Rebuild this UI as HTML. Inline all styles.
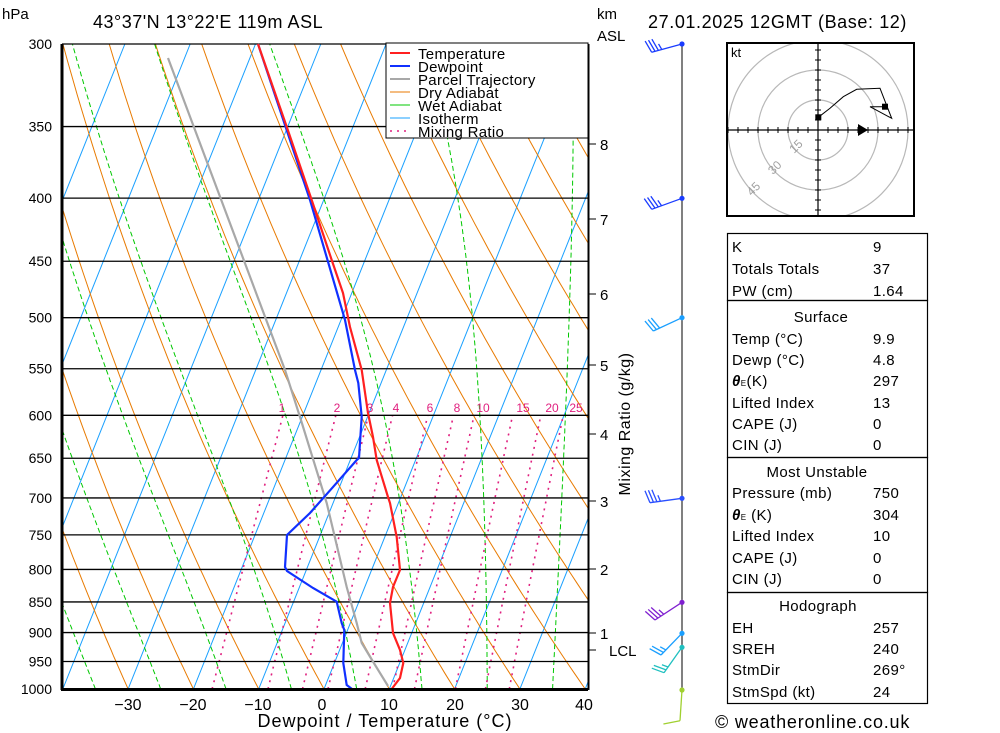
<!DOCTYPE html>
<html><head><meta charset="utf-8">
<style>
html,body{margin:0;padding:0;background:#fff;}
svg{display:block;font-family:"Liberation Sans",sans-serif;}
</style></head><body>
<svg id="s" width="1000" height="733" viewBox="0 0 1000 733" xmlns="http://www.w3.org/2000/svg">
<defs><clipPath id="pc"><rect x="62" y="44" width="526" height="645"/></clipPath>
<clipPath id="hc"><rect x="727" y="43" width="187" height="173"/></clipPath></defs>
<g id="bg" clip-path="url(#pc)"></g>
<g id="fg"></g>
<text x="2" y="19" font-size="15">hPa</text>
<text x="93" y="28" font-size="18" letter-spacing="0.5">43°37'N  13°22'E  119m  ASL</text>
<text x="597" y="19" font-size="15">km</text>
<text x="597" y="41" font-size="15">ASL</text>
<text x="648" y="28" font-size="18" letter-spacing="0.6">27.01.2025  12GMT  (Base: 12)</text>
<g font-size="14" text-anchor="end" id="plab"></g>
<g font-size="16" text-anchor="middle">
<text x="128" y="710">−30</text><text x="193" y="710">−20</text><text x="258" y="710">−10</text>
<text x="322" y="710">0</text><text x="389" y="710">10</text><text x="455" y="710">20</text>
<text x="520" y="710">30</text><text x="584" y="710">40</text>
</g>
<text x="385" y="727" font-size="18" text-anchor="middle" letter-spacing="1">Dewpoint / Temperature (°C)</text>
<g font-size="15">
<text x="600" y="150">8</text><text x="600" y="225">7</text><text x="600" y="300">6</text>
<text x="600" y="371">5</text><text x="600" y="440">4</text><text x="600" y="507">3</text>
<text x="600" y="575">2</text><text x="600" y="639">1</text><text x="609" y="656">LCL</text>
</g>
<text transform="translate(630,424) rotate(-90)" font-size="16" text-anchor="middle" letter-spacing="0.5">Mixing Ratio (g/kg)</text>
<g font-size="12" fill="#e0207f" text-anchor="middle">
<text x="282" y="412">1</text><text x="337" y="412">2</text><text x="370" y="412">3</text><text x="396" y="412">4</text>
<text x="430" y="412">6</text><text x="457" y="412">8</text><text x="483" y="412">10</text><text x="523" y="412">15</text>
<text x="552" y="412">20</text><text x="576" y="412">25</text>
</g>
<rect x="386" y="43" width="202" height="95" fill="#fff" stroke="#000" stroke-width="1"/>
<g font-size="15" letter-spacing="0.3">
<line x1="390" y1="53" x2="410" y2="53" stroke="#ff2020" stroke-width="2"/><text x="418" y="59">Temperature</text>
<line x1="390" y1="66" x2="410" y2="66" stroke="#1030ff" stroke-width="2"/><text x="418" y="72">Dewpoint</text>
<line x1="390" y1="79" x2="410" y2="79" stroke="#a8a8a8" stroke-width="2"/><text x="418" y="85">Parcel Trajectory</text>
<line x1="390" y1="92" x2="410" y2="92" stroke="#e87a00" stroke-width="1"/><text x="418" y="98">Dry Adiabat</text>
<line x1="390" y1="105" x2="410" y2="105" stroke="#00c800" stroke-width="1"/><text x="418" y="111">Wet Adiabat</text>
<line x1="390" y1="118" x2="410" y2="118" stroke="#1aa0ff" stroke-width="1"/><text x="418" y="124">Isotherm</text>
<line x1="390" y1="131" x2="410" y2="131" stroke="#e0207f" stroke-width="1.5" stroke-dasharray="2,5"/><text x="418" y="137">Mixing Ratio</text>
</g>
<g id="hodo"></g>
<rect x="727" y="43" width="187" height="173" fill="none" stroke="#000" stroke-width="2"/>
<text x="731" y="57" font-size="13">kt</text>
<g fill="none" stroke="#000" stroke-width="1.2">
<rect x="727.5" y="233.5" width="200" height="67"/>
<rect x="727.5" y="300.5" width="200" height="157"/>
<rect x="727.5" y="457.5" width="200" height="135"/>
<rect x="727.5" y="592.5" width="200" height="111"/>
</g>
<g font-size="15" letter-spacing="0.4">
<text x="732" y="252">K</text><text x="873" y="252">9</text>
<text x="732" y="274">Totals Totals</text><text x="873" y="274">37</text>
<text x="732" y="296">PW (cm)</text><text x="873" y="296">1.64</text>
<text x="821" y="322" text-anchor="middle">Surface</text>
<text x="732" y="344">Temp (°C)</text><text x="873" y="344">9.9</text>
<text x="732" y="365">Dewp (°C)</text><text x="873" y="365">4.8</text>
<text x="732" y="386"><tspan font-style="italic" font-weight="bold">θ</tspan><tspan font-size="8">E</tspan>(K)</text><text x="873" y="386">297</text>
<text x="732" y="408">Lifted Index</text><text x="873" y="408">13</text>
<text x="732" y="429">CAPE (J)</text><text x="873" y="429">0</text>
<text x="732" y="450">CIN (J)</text><text x="873" y="450">0</text>
<text x="817" y="477" text-anchor="middle">Most Unstable</text>
<text x="732" y="498">Pressure (mb)</text><text x="873" y="498">750</text>
<text x="732" y="520"><tspan font-style="italic" font-weight="bold">θ</tspan><tspan font-size="8">E</tspan> (K)</text><text x="873" y="520">304</text>
<text x="732" y="541">Lifted Index</text><text x="873" y="541">10</text>
<text x="732" y="563">CAPE (J)</text><text x="873" y="563">0</text>
<text x="732" y="584">CIN (J)</text><text x="873" y="584">0</text>
<text x="818" y="611" text-anchor="middle">Hodograph</text>
<text x="732" y="633">EH</text><text x="873" y="633">257</text>
<text x="732" y="654">SREH</text><text x="873" y="654">240</text>
<text x="732" y="675">StmDir</text><text x="873" y="675">269°</text>
<text x="732" y="697">StmSpd (kt)</text><text x="873" y="697">24</text>
</g>
<text x="715" y="728" font-size="18" letter-spacing="0.8">© weatheronline.co.uk</text>
</svg>
<script>
(function(){
var NS="http://www.w3.org/2000/svg";
function el(parent,tag,attrs){var e=document.createElementNS(NS,tag);for(var k in attrs)e.setAttribute(k,attrs[k]);parent.appendChild(e);return e;}
var L=Math.log(1000/300);
function Y(p){return 44+645*Math.log(p/300)/L;}
function X(T,p){return 324+6.53*T+0.40*(689-Y(p));}
var bg=document.getElementById('bg'),fg=document.getElementById('fg');
function poly(g,pts,st,w,dash){var s=pts.map(function(q){return q[0].toFixed(1)+","+q[1].toFixed(1)}).join(" ");var a={points:s,fill:"none",stroke:st,"stroke-width":w};if(dash)a["stroke-dasharray"]=dash;el(g,"polyline",a);}
for(var T=-130;T<=40;T+=10){poly(bg,[[X(T,1000),Y(1000)],[X(T,300),Y(300)]],"#1aa0ff",1);}
for(var th=-40;th<=160;th+=10){var pts=[];for(var p=1000;p>=300;p-=10){var t=(th+273.15)*Math.pow(p/1000,0.2857)-273.15;pts.push([X(t,p),Y(p)]);}poly(bg,pts,"#e87a00",1);}
function es(t){return 6.112*Math.exp(17.67*t/(t+243.5));}
for(var t0=-35;t0<=35;t0+=10){var t=t0,pts=[[X(t,1000),Y(1000)]];for(var p=1000;p>300;p-=2){var Tk=t+273.15;var e=es(t);var rs=0.622*e/(p-e);var Lv=2.5e6,Rd=287,cp=1005;var dTdp=(Rd*Tk+Lv*rs)/(cp+Lv*Lv*rs*0.622/(Rd*Tk*Tk))/p;t=t+dTdp*(-2);pts.push([X(t,p-2),Y(p-2)]);}poly(bg,pts,"#00c800",1,"5,3");}
[1,2,3,4,6,8,10,15,20,25].forEach(function(w){var pts=[];for(var p=1000;p>=600;p-=10){var e=w*p/(622+w);var l=Math.log(e/6.112);var td=243.5*l/(17.67-l);pts.push([X(td,p),Y(p)]);}poly(bg,pts,"#e0207f",1.6,"2,5");});
var plab=document.getElementById('plab');
[300,350,400,450,500,550,600,650,700,750,800,850,900,950,1000].forEach(function(p){var y=Y(p);el(fg,"line",{x1:62,y1:y,x2:588,y2:y,stroke:"#000","stroke-width":1.3});var t=el(plab,"text",{x:52,y:y+5});t.textContent=p;});
var temp=[[391.7,689],[400,678],[403.3,663],[400,650],[393,633],[390,603],[393,587],[400,570],[396.7,537],[390,503],[388,497],[376.7,460],[373,437],[368,413],[361.7,370],[350,327],[343,293],[331.7,260],[311.7,200],[286.7,126.7],[258,44]];
var dew=[[352,689],[346.7,685],[343.3,663],[344.3,630],[341.7,623],[336.7,601.7],[313,588],[287,571],[285,567],[287,535],[310,513],[333.3,486.7],[356.7,460],[359,458],[361.7,416.7],[358.3,383],[355,370],[345,320],[310,200],[285,125],[258,44]];
var par=[[388,686],[372,660],[361.7,643],[356.7,623],[346.7,587],[326.7,503],[300,417],[285,370],[168,58]];
poly(fg,par,"#a8a8a8",2.2);
poly(fg,dew,"#1030ff",2.2);
poly(fg,temp,"#ff2020",2.2);
el(fg,"line",{x1:62,y1:44,x2:62,y2:690,stroke:"#000","stroke-width":3});
el(fg,"line",{x1:61,y1:689.5,x2:588,y2:689.5,stroke:"#000","stroke-width":3});
el(fg,"line",{x1:588.5,y1:44,x2:588.5,y2:690,stroke:"#000","stroke-width":2});
[144,219,294,365,434,501,569,633,650].forEach(function(y){el(fg,"line",{x1:588,y1:y,x2:596,y2:y,stroke:"#000","stroke-width":1});});
el(fg,"line",{x1:682,y1:44,x2:682,y2:690,stroke:"#000","stroke-width":1});
function barb(bx,by,tx,ty,col,n){var dx=tx-bx,dy=ty-by,len=Math.sqrt(dx*dx+dy*dy);var ux=dx/len,uy=dy/len;var a=75*Math.PI/180;var vx=ux*Math.cos(a)-uy*Math.sin(a),vy=ux*Math.sin(a)+uy*Math.cos(a);
el(fg,"line",{x1:bx,y1:by,x2:tx,y2:ty,stroke:col,"stroke-width":1.3});
for(var i=0;i<n.length;i++){var px=tx-ux*3.5*i,py=ty-uy*3.5*i;var l=n[i]*13;el(fg,"line",{x1:px,y1:py,x2:px+vx*l,y2:py+vy*l,stroke:col,"stroke-width":1.3});}
el(fg,"circle",{cx:bx,cy:by,r:2.6,fill:col});}
barb(682,44,651.7,52.3,"#1a3cff",[1,1,1,0.5]);
barb(682,198.3,651.7,209.3,"#1a3cff",[1,1,1,0.5]);
barb(682,317.7,653.3,331,"#1a9fff",[1,1,1]);
barb(682,498.3,650,502.7,"#2a4fff",[1,1,1,0.5]);
barb(682,602.3,655,620,"#8020d0",[1,1,1,0.5]);
barb(682,633.3,661,655,"#1a9fff",[1,1,0.5]);
barb(682,647.3,664,672.7,"#20c0c0",[1,1,0.5]);
barb(682,690,680,720.7,"#a0d030",[1.3]);
var h=document.getElementById('hodo');var hg=el(h,"g",{"clip-path":"url(#hc)"});
var cx=818,cy=130;
[30,60,90].forEach(function(r){el(hg,"circle",{cx:cx,cy:cy,r:r,fill:"none",stroke:"#b8b8b8","stroke-width":1.2});});
el(hg,"line",{x1:727,y1:cy,x2:914,y2:cy,stroke:"#000","stroke-width":1.2});
el(hg,"line",{x1:cx,y1:43,x2:cx,y2:216,stroke:"#000","stroke-width":1.2});
for(var k=-9;k<=9;k++){if(k==0)continue;el(hg,"line",{x1:cx+k*10,y1:cy-3,x2:cx+k*10,y2:cy+3,stroke:"#000","stroke-width":1});el(hg,"line",{x1:cx-3,y1:cy+k*10,x2:cx+3,y2:cy+k*10,stroke:"#000","stroke-width":1});}
[[15,30],[30,60],[45,90]].forEach(function(a){var d=a[1]*0.7071;var t=el(hg,"text",{x:0,y:0,"font-size":"12",fill:"#a0a0a0","text-anchor":"middle",transform:"translate("+(cx-d+2)+","+(cy+d-2)+") rotate(-45)"});t.textContent=a[0];});
poly(hg,[[818.3,117.3],[830,108.3],[843.3,96.7],[856.7,89.3],[880,88.3],[891.7,118.3],[870,106.7],[885,106.7]],"#000",1);
el(hg,"rect",{x:815.3,y:114.3,width:6,height:6,fill:"#000"});
el(hg,"rect",{x:882,y:103.7,width:6,height:6,fill:"#000"});
el(hg,"polygon",{points:"858,124 868,130 858,136",fill:"#000"});
})();
</script>
</body></html>
